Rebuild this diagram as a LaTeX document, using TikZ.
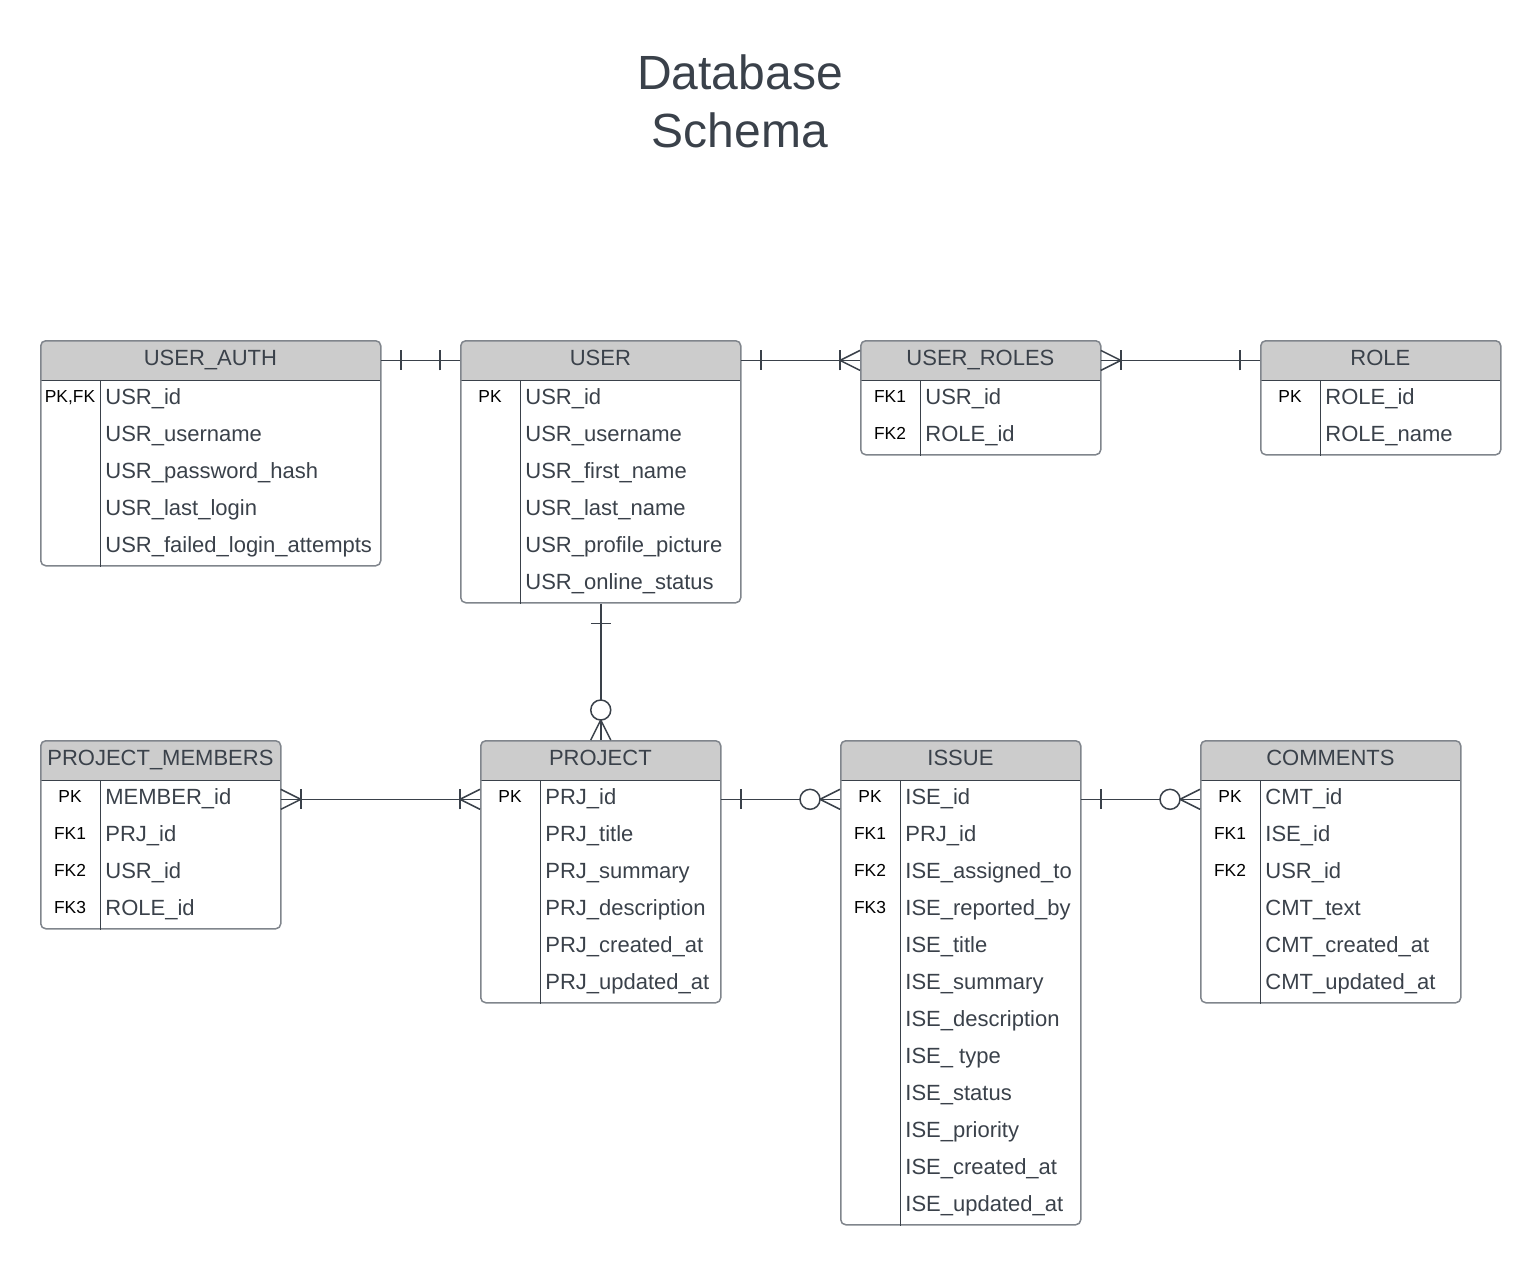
\documentclass[tikz,border=0pt]{standalone}
\usepackage{fontspec}
\setmainfont{Liberation Sans}
\usetikzlibrary{calc}
\definecolor{ink}{HTML}{3A414A}
\definecolor{hdr}{HTML}{CCCCCC}
\definecolor{frame}{HTML}{80858C}
\tikzset{
  conn/.style={draw=ink, line width=0.75pt},
  sep/.style={draw=ink, line width=0.5pt},
  hdrbox/.style={fill=hdr, draw=none, rounded corners=2.5pt, inner sep=0pt, anchor=north west},
  boxframe/.style={draw=frame, line width=0.75pt, rounded corners=2.5pt, inner sep=0pt, anchor=north west},
  hdrtxt/.style={anchor=base, inner sep=0pt, text=ink, font=\fontsize{11}{13}\selectfont},
  fieldtxt/.style={anchor=base west, inner sep=0pt, text=ink, font=\fontsize{11}{13}\selectfont},
  keytxt/.style={anchor=base, inner sep=0pt, text=black, font=\fontsize{8.7}{10}\selectfont},
  titletxt/.style={align=center, text=ink, inner sep=0pt, font=\fontsize{24}{29}\selectfont},
  erone/.pic={\draw[conn] (20,-10) -- (20,10);},
  ermany/.pic={\draw[conn] (0,-10) -- (20,0) -- (0,10); \draw[conn] (20,-10) -- (20,10);},
  erzmany/.pic={\draw[conn] (0,-10) -- (20,0) -- (0,10); \draw[conn, fill=white] (30,0) circle[radius=10];}
}
% name, x, y, width, key column width, rows, title
\newcommand\ertable[7]{%
  \node[hdrbox, minimum width=#4*0.5pt, minimum height=20pt] (#1-h) at (#2,#3) {};
  \fill[hdr] (#1-h.west) rectangle (#1-h.south east);
  \draw[sep] (#1-h.south west) -- (#1-h.south east);
  \node[boxframe, minimum width=#4*0.5pt, minimum height={(40+37*#6)*0.5pt}] (#1) at (#2,#3) {};
  \draw[sep] ($(#1-h.south west)+(#5,0)$) -- ($(#1.south west)+(#5,0)$);
  \coordinate (#1-kc) at ($(#1-h.south west)+({#5/2},0)$);
  \coordinate (#1-fx) at ($(#1-h.south west)+({#5+5},0)$);
  \coordinate (#1-r1w) at ($(#1-h.south west)+(0,18.5)$);
  \coordinate (#1-r1e) at ($(#1-h.south east)+(0,18.5)$);
  \node[hdrtxt] (#1-t) at ($(#1-h.north)+(0,25)$) {#7};
}
\newcommand\erfields[2]{%
  \foreach \f [count=\i] in {#2} {
    \node[fieldtxt] (#1-f\i) at ($(#1-fx)+(0,{37*\i-13})$) {\f};
  }
}
\newcommand\erkey[3]{%
  \node[keytxt] (#1-k#2) at ($(#1-kc)+(0,{37*#2-15})$) {#3};
}
\begin{document}
\begin{tikzpicture}[x=0.5pt, y=-0.5pt]
\useasboundingbox (0,0) rectangle (1540,1264);
\node[titletxt] (title) at (740,101) {Database\\Schema};

\ertable{ua}{40}{340}{340}{60}{5}{USER\_AUTH}
\erkey{ua}{1}{PK,FK}
\erfields{ua}{USR\_id, USR\_username, USR\_password\_hash, USR\_last\_login, USR\_failed\_login\_attempts}

\ertable{usr}{460}{340}{280}{60}{6}{USER}
\erkey{usr}{1}{PK}
\erfields{usr}{USR\_id, USR\_username, USR\_first\_name, USR\_last\_name, USR\_profile\_picture, USR\_online\_status}

\ertable{ur}{860}{340}{240}{60}{2}{USER\_ROLES}
\erkey{ur}{1}{FK1}
\erkey{ur}{2}{FK2}
\erfields{ur}{USR\_id, ROLE\_id}

\ertable{role}{1260}{340}{240}{60}{2}{ROLE}
\erkey{role}{1}{PK}
\erfields{role}{ROLE\_id, ROLE\_name}

\ertable{pm}{40}{740}{240}{60}{4}{PROJECT\_MEMBERS}
\erkey{pm}{1}{PK}
\erkey{pm}{2}{FK1}
\erkey{pm}{3}{FK2}
\erkey{pm}{4}{FK3}
\erfields{pm}{MEMBER\_id, PRJ\_id, USR\_id, ROLE\_id}

\ertable{prj}{480}{740}{240}{60}{6}{PROJECT}
\erkey{prj}{1}{PK}
\erfields{prj}{PRJ\_id, PRJ\_title, PRJ\_summary, PRJ\_description, PRJ\_created\_at, PRJ\_updated\_at}

\ertable{ise}{840}{740}{240}{60}{12}{ISSUE}
\erkey{ise}{1}{PK}
\erkey{ise}{2}{FK1}
\erkey{ise}{3}{FK2}
\erkey{ise}{4}{FK3}
\erfields{ise}{ISE\_id, PRJ\_id, ISE\_assigned\_to, ISE\_reported\_by, ISE\_title, ISE\_summary, ISE\_description, ISE\_ type, ISE\_status, ISE\_priority, ISE\_created\_at, ISE\_updated\_at}

\ertable{cmt}{1200}{740}{260}{60}{6}{COMMENTS}
\erkey{cmt}{1}{PK}
\erkey{cmt}{2}{FK1}
\erkey{cmt}{3}{FK2}
\erfields{cmt}{CMT\_id, ISE\_id, USR\_id, CMT\_text, CMT\_created\_at, CMT\_updated\_at}

% connectors
\draw[conn] (ua-h.east) -- (usr-h.west);
\pic at (ua-h.east) {erone};
\pic[rotate=180] at (usr-h.west) {erone};

\draw[conn] (usr-h.east) -- (ur-h.west);
\pic at (usr-h.east) {erone};
\pic[rotate=180] at (ur-h.west) {ermany};

\draw[conn] (ur-h.east) -- (role-h.west);
\pic at (ur-h.east) {ermany};
\pic[rotate=180] at (role-h.west) {erone};

\draw[conn] (usr.south) -- (prj.north);
\pic[rotate=-90] at (usr.south) {erone};
\pic[rotate=90] at (prj.north) {erzmany};

\draw[conn] (pm-r1e) -- (prj-r1w);
\pic at (pm-r1e) {ermany};
\pic[rotate=180] at (prj-r1w) {ermany};

\draw[conn] (prj-r1e) -- (ise-r1w);
\pic at (prj-r1e) {erone};
\pic[rotate=180] at (ise-r1w) {erzmany};

\draw[conn] (ise-r1e) -- (cmt-r1w);
\pic at (ise-r1e) {erone};
\pic[rotate=180] at (cmt-r1w) {erzmany};
\end{tikzpicture}
\end{document}
